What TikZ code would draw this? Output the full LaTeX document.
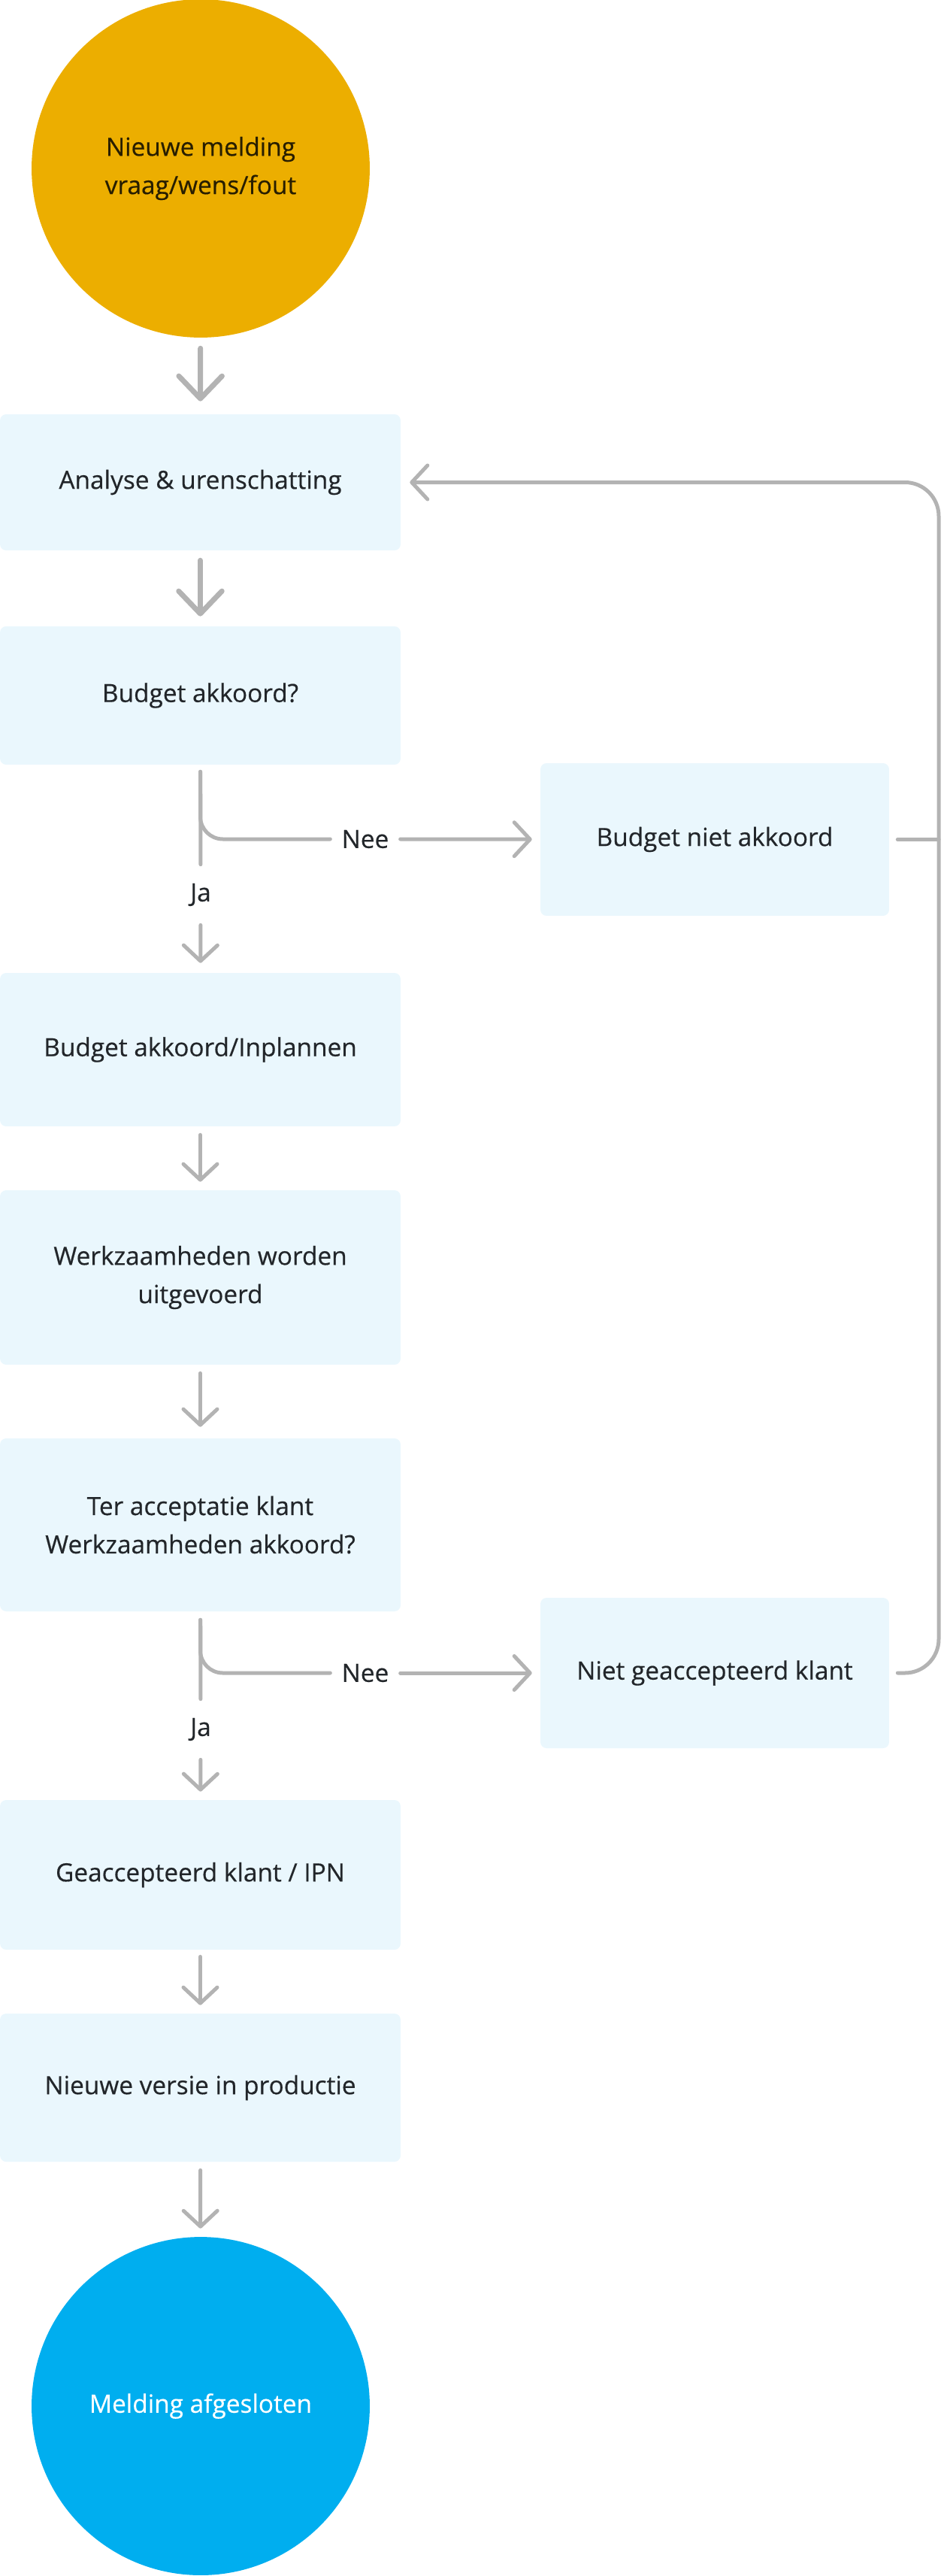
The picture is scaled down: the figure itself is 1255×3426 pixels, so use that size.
\documentclass[tikz,border=0pt]{standalone}
\usepackage{fontspec}
\setmainfont{Open Sans}
\newfontfamily\mlfont{Open Sans}[FakeBold=0.4]
\usepackage{tikz}
\usetikzlibrary{arrows.meta}
\definecolor{mlYellow}{RGB}{236,174,0}
\definecolor{mlBrown}{RGB}{40,30,0}
\definecolor{mlBlue}{RGB}{0,174,239}
\definecolor{mlBox}{RGB}{234,247,253}
\definecolor{mlGray}{RGB}{179,179,179}
\definecolor{mlText}{RGB}{34,38,42}

\begin{document}
\begin{tikzpicture}[x=0.02cm, y=-0.02cm, font=\mlfont\fontsize{19}{29}\selectfont, text=mlText,
  stap/.style={fill=mlBox, rounded corners=0.16cm, minimum width=10.66cm, align=center},
  rond/.style={circle, minimum size=9cm, align=center},
  keuze/.style={inner xsep=0.3cm, inner ysep=0pt, minimum height=1.6cm},
  lijn/.style={draw=mlGray, line width=0.1cm, line cap=round},
  pijl/.style={lijn, -{Straight Barb[length=0.42cm, width=0.9cm, round]}},
  dikpijl/.style={lijn, line width=0.14cm, -{Straight Barb[length=0.6cm, width=1.15cm, round]}}]
\useasboundingbox (0,0) rectangle (1255,3426);

\node[rond, fill=mlYellow, text=mlBrown] (start) at (267,224) {Nieuwe melding\\vraag/wens/fout};
\node[stap, minimum height=3.62cm] (analyse) at (266.5,641.5) {Analyse \& urenschatting};
\node[stap, minimum height=3.68cm] (budget) at (266.5,925) {Budget akkoord?};
\node[keuze] (nee1) at (486,1116) {Nee};
\node[stap, minimum width=9.28cm, minimum height=4.06cm] (budgetnee) at (951,1116.5) {Budget niet akkoord};
\node[keuze] (ja1) at (267,1190) {Ja};
\node[stap, minimum height=4.08cm] (inplannen) at (266.5,1396) {Budget akkoord/Inplannen};
\node[stap, minimum height=4.64cm] (werk) at (266.5,1699) {Werkzaamheden worden\\uitgevoerd};
\node[stap, minimum height=4.6cm] (acceptatie) at (266.5,2028) {Ter acceptatie klant\\Werkzaamheden akkoord?};
\node[keuze] (nee2) at (486,2225) {Nee};
\node[stap, minimum width=9.28cm, minimum height=4cm] (klantnee) at (951,2225) {Niet geaccepteerd klant};
\node[keuze] (ja2) at (267,2300) {Ja};
\node[stap, minimum height=3.98cm] (ipn) at (266.5,2493.5) {Geaccepteerd klant / IPN};
\node[stap, minimum height=3.94cm] (productie) at (266.5,2776.5) {Nieuwe versie in productie};
\node[rond, fill=mlBlue, text=white] (einde) at (267,3200) {Melding afgesloten};
\coordinate (terug) at (1249,641.5);

% hoofdlijn
\draw[dikpijl, shorten <=0.28cm, shorten >=0.34cm] (start) -- (analyse);
\draw[dikpijl, shorten <=0.26cm, shorten >=0.26cm] (analyse) -- (budget);
\draw[lijn, shorten <=0.18cm] (budget) -- (ja1);
\draw[pijl, shorten >=0.26cm] (ja1) -- (inplannen);
\draw[pijl, shorten <=0.22cm, shorten >=0.22cm] (inplannen) -- (werk);
\draw[pijl, shorten <=0.22cm, shorten >=0.3cm] (werk) -- (acceptatie);
\draw[lijn, shorten <=0.22cm] (acceptatie) -- (ja2);
\draw[pijl, shorten >=0.22cm] (ja2) -- (ipn);
\draw[pijl, shorten <=0.18cm, shorten >=0.22cm] (ipn) -- (productie);
\draw[pijl, shorten <=0.22cm, shorten >=0.22cm] (productie) -- (einde);

% nee-takken
\draw[lijn, rounded corners=0.6cm, shorten <=0.18cm] (budget.south) |- (nee1);
\draw[pijl, shorten >=0.22cm] (nee1) -- (budgetnee);
\draw[lijn, rounded corners=0.6cm, shorten <=0.22cm] (acceptatie.south) |- (nee2);
\draw[pijl, shorten >=0.22cm] (nee2) -- (klantnee);

% terug naar analyse
\draw[lijn, shorten <=0.22cm] (budgetnee.east) -- (budgetnee.east -| terug);
\draw[pijl, rounded corners=0.9cm, shorten <=0.22cm, shorten >=0.24cm] (klantnee.east) -| (terug) -- (analyse.east);
\end{tikzpicture}
\end{document}
